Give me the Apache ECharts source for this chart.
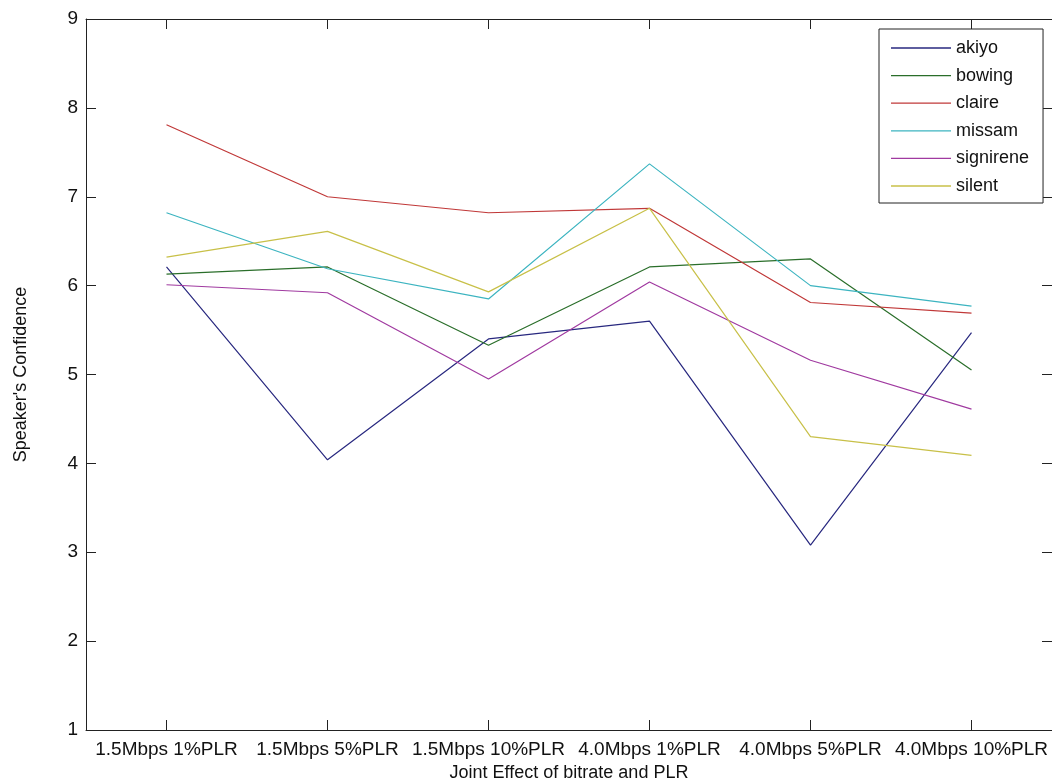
<!DOCTYPE html>
<html>
<head>
<meta charset="utf-8">
<script src="https://cdn.jsdelivr.net/npm/echarts@6/dist/echarts.min.js"></script>
<style>
html,body{margin:0;padding:0;background:#fff;}
#chart{width:1052px;height:782px;}
</style>
</head>
<body>
<div id="chart"></div>
<script>
const categories = ['1.5Mbps 1%PLR', '1.5Mbps 5%PLR', '1.5Mbps 10%PLR', '4.0Mbps 1%PLR', '4.0Mbps 5%PLR', '4.0Mbps 10%PLR'];
const seriesNames = ['akiyo', 'bowing', 'claire', 'missam', 'signirene', 'silent'];
const akiyo = [6.21, 4.04, 5.40, 5.60, 3.08, 5.47];
const bowing = [6.13, 6.21, 5.33, 6.21, 6.30, 5.05];
const claire = [7.81, 7.00, 6.82, 6.87, 5.81, 5.69];
const missam = [6.82, 6.19, 5.85, 7.37, 6.00, 5.77];
const signirene = [6.01, 5.92, 4.95, 6.04, 5.16, 4.61];
const silent = [6.32, 6.61, 5.93, 6.87, 4.30, 4.09];
const yTicks = [1, 2, 3, 4, 5, 6, 7, 8, 9];

const values = [akiyo, bowing, claire, missam, signirene, silent];
const colors = ['#28287f', '#2a6e2a', '#c03838', '#3cb4c0', '#a03aa0', '#c8c048'];
const font = 'Liberation Sans, Arial, sans-serif';
const axisColor = '#222';

const chart = echarts.init(document.getElementById('chart'), null, {renderer: 'canvas'});
const tickCommon = {show: true, inside: true, length: 10, lineStyle: {color: axisColor, width: 1}};
const option = {
  backgroundColor: '#ffffff',
  animation: false,
  grid: {left: 86, top: 19, width: 966, bottom: 52, containLabel: false, outerBoundsMode: 'none'},
  legend: {
    orient: 'vertical',
    left: 879,
    top: 29,
    padding: [10, 14, 8, 12],
    backgroundColor: '#ffffff',
    borderColor: '#222',
    borderWidth: 1,
    borderRadius: 0,
    icon: 'rect',
    itemWidth: 60,
    itemHeight: 1.3,
    itemGap: 9.6,
    textStyle: {fontFamily: font, fontSize: 18, color: '#111'},
    data: seriesNames
  },
  xAxis: [{
    type: 'category',
    data: categories,
    boundaryGap: true,
    position: 'bottom',
    axisLine: {show: true, lineStyle: {color: axisColor, width: 1}},
    axisTick: Object.assign({alignWithLabel: true}, tickCommon),
    axisLabel: {fontFamily: font, fontSize: 19, color: '#111', margin: 10, interval: 0},
    splitLine: {show: false},
    name: 'Joint Effect of bitrate and PLR',
    nameLocation: 'middle',
    nameGap: 33,
    nameTextStyle: {fontFamily: font, fontSize: 18, color: '#111'}
  }, {
    type: 'category',
    data: categories,
    boundaryGap: true,
    position: 'top',
    axisLine: {show: true, lineStyle: {color: axisColor, width: 1}},
    axisTick: Object.assign({alignWithLabel: true}, tickCommon),
    axisLabel: {show: false},
    splitLine: {show: false}
  }],
  yAxis: [{
    type: 'value',
    min: yTicks[0],
    max: yTicks[yTicks.length - 1],
    interval: 1,
    position: 'left',
    axisLine: {show: true, lineStyle: {color: axisColor, width: 1}},
    axisTick: tickCommon,
    axisLabel: {fontFamily: font, fontSize: 19, color: '#111', margin: 8},
    splitLine: {show: false},
    name: "Speaker's Confidence",
    nameLocation: 'middle',
    nameGap: 56,
    nameTextStyle: {fontFamily: font, fontSize: 18, color: '#111'}
  }, {
    type: 'value',
    min: yTicks[0],
    max: yTicks[yTicks.length - 1],
    interval: 1,
    position: 'right',
    axisLine: {show: true, lineStyle: {color: axisColor, width: 1}},
    axisTick: tickCommon,
    axisLabel: {show: false},
    splitLine: {show: false}
  }],
  series: seriesNames.map((n, i) => ({
    name: n,
    type: 'line',
    data: values[i],
    symbol: 'none',
    color: colors[i],
    itemStyle: {color: colors[i]},
    lineStyle: {width: 1.2, color: colors[i]},
    xAxisIndex: 0,
    yAxisIndex: 0
  }))
};
chart.setOption(option);
</script>
</body>
</html>
